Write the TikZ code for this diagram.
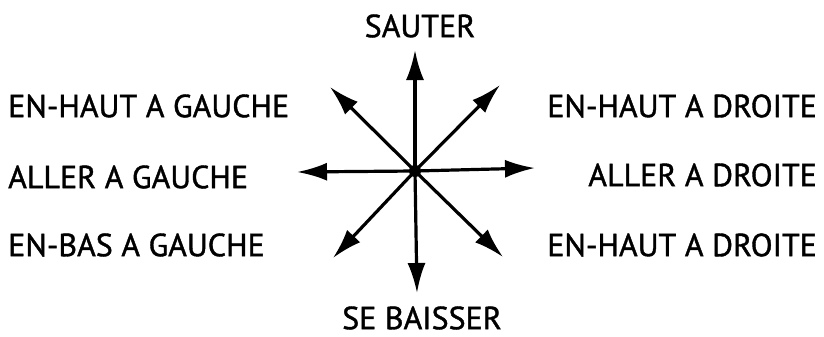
\documentclass[tikz,border=0pt]{standalone}
\usepackage{fontspec}
\setmainfont[FakeBold=1.2]{PT Sans}
\usetikzlibrary{arrows.meta}
\begin{document}
\begin{tikzpicture}[x=1pt,y=-1pt,
  lbl/.style={font=\fontsize{32}{32}\selectfont, inner sep=0pt},
  arr/.style={line width=3.2pt, -{Latex[length=30pt,width=18pt]}}]
\useasboundingbox (0,0) rectangle (824,337);
\coordinate (c) at (415,171);
\coordinate (n) at (415,50);
\coordinate (s) at (417,293);
\coordinate (w) at (297,172);
\coordinate (e) at (535,168);
\coordinate (nw) at (330,87);
\coordinate (ne) at (500,85);
\coordinate (sw) at (333,258);
\coordinate (se) at (503,257);
\foreach \t in {n,s,w,e,nw,ne,sw,se} \draw[arr] (c) -- (\t);
\fill (c) circle (6pt);
\node[lbl] (sauter) at (420,26) {SAUTER};
\node[lbl] (baisser) at (422,318) {SE BAISSER};
\node[lbl, anchor=west] (hg) at (8,106) {EN-HAUT A GAUCHE};
\node[lbl, anchor=west] (ag) at (8,177) {ALLER A GAUCHE};
\node[lbl, anchor=west] (bg) at (8,245) {EN-BAS A GAUCHE};
\node[lbl, anchor=east] (hd) at (817,106) {EN-HAUT A DROITE};
\node[lbl, anchor=east] (ad) at (817,175) {ALLER A DROITE};
\node[lbl, anchor=east] (bd) at (817,245) {EN-HAUT A DROITE};
\end{tikzpicture}
\end{document}
